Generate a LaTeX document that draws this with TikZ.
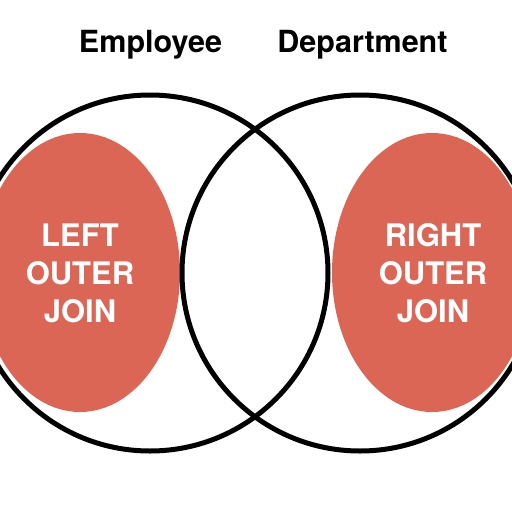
\documentclass[tikz,border=0pt]{standalone}
\usepackage{fontspec}
\setmainfont{TeX Gyre Heros}
\definecolor{joinred}{RGB}{219,102,86}

\tikzset{
  setline/.style={line width=5pt, black},
  title/.style={anchor=base, font=\fontsize{30.5}{34}\selectfont\bfseries},
  joinlabel/.style={align=center, text=white, font=\fontsize{31}{38}\selectfont\bfseries}
}

\begin{document}
\begin{tikzpicture}[x=1pt, y=-1pt]
  \useasboundingbox (0,0) rectangle (512,512);

  % Outer joins
  \fill[joinred] (80,272.5) ellipse [x radius=100, y radius=139.5];
  \fill[joinred] (432,272.5) ellipse [x radius=100, y radius=139.5];

  % Sets
  \draw[setline] (150,273) circle [radius=178];
  \draw[setline] (360,273) circle [radius=178];

  % Labels
  \node[title] (employee) at (150.5,52) {Employee};
  \node[title] (department) at (362.5,52) {Department};
  \node[joinlabel] (left) at (80,273) {LEFT\\OUTER\\JOIN};
  \node[joinlabel] (right) at (433,273) {RIGHT\\OUTER\\JOIN};
\end{tikzpicture}
\end{document}
